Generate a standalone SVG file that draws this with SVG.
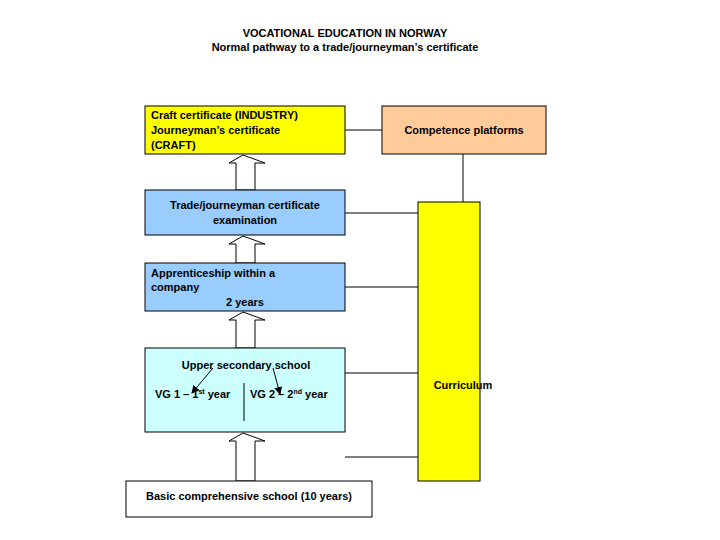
<svg xmlns="http://www.w3.org/2000/svg" width="720" height="540" viewBox="0 0 720 540">
<style>
text{font-family:"Liberation Sans",Arial,sans-serif;font-size:11px;font-weight:bold;fill:#000}
.b{stroke:#000;stroke-width:1}
.l{stroke:#000;stroke-width:1;fill:none}
.ba{fill:#fff;stroke:#000;stroke-width:1}
</style>
<defs>
<marker id="ah" markerWidth="8" markerHeight="8" refX="7" refY="4" orient="auto" markerUnits="userSpaceOnUse"><path d="M0,0 L8,4 L0,8 z" fill="#000"/></marker>
</defs>
<rect width="720" height="540" fill="#fff"/>
<text x="345" y="37" text-anchor="middle">VOCATIONAL EDUCATION IN NORWAY</text>
<text x="345" y="51" text-anchor="middle">Normal pathway to a trade/journeyman’s certificate</text>
<g id="connectors">
<line class="l" x1="345" y1="130" x2="382" y2="130"/>
<line class="l" x1="463" y1="154" x2="463" y2="202"/>
<line class="l" x1="345" y1="213" x2="418" y2="213"/>
<line class="l" x1="345" y1="287" x2="418" y2="287"/>
<line class="l" x1="345" y1="373" x2="418" y2="373"/>
<line class="l" x1="345" y1="457" x2="418" y2="457"/>
<path class="ba" d="M243,155 L265,163 L255,163 L255,190 L236,190 L236,163 L229,163 Z"/>
<path class="ba" d="M243,236 L265,244 L255,244 L255,263 L236,263 L236,244 L229,244 Z"/>
<path class="ba" d="M243,312 L265,320 L255,320 L255,348 L236,348 L236,320 L229,320 Z"/>
<path class="ba" d="M243,433 L265,441 L255,441 L255,481 L236,481 L236,441 L229,441 Z"/>
</g>
<g id="craft"><rect class="b" x="145" y="106" width="200" height="48" fill="#ffff00"/>
<text x="151" y="119">Craft certificate (INDUSTRY)</text><text x="151" y="134">Journeyman’s certificate</text><text x="151" y="149">(CRAFT)</text></g>
<g id="competence"><rect class="b" x="382" y="106" width="164" height="48" fill="#ffcc99"/>
<text x="464" y="134" text-anchor="middle">Competence platforms</text></g>
<g id="trade"><rect class="b" x="145" y="190" width="200" height="45" fill="#99ccff"/>
<text x="245" y="209" text-anchor="middle">Trade/journeyman certificate</text><text x="245" y="224" text-anchor="middle">examination</text></g>
<g id="apprenticeship"><rect class="b" x="145" y="263" width="200" height="48" fill="#99ccff"/>
<text x="151" y="277">Apprenticeship within a</text><text x="151" y="291">company</text><text x="245" y="306" text-anchor="middle">2 years</text></g>
<g id="upper"><rect class="b" x="145" y="348" width="200" height="84" fill="#ccffff"/>
<text x="246" y="369" text-anchor="middle">Upper secondary school</text>
<text x="155" y="398">VG 1 – 1<tspan font-size="7" dy="-4">st</tspan><tspan dy="4"> year</tspan></text>
<text x="250" y="398">VG 2 – 2<tspan font-size="7" dy="-4">nd</tspan><tspan dy="4"> year</tspan></text>
<line class="l" x1="244" y1="383" x2="244" y2="421"/>
<line class="l" x1="213" y1="368" x2="192" y2="393" marker-end="url(#ah)"/>
<line class="l" x1="273" y1="368" x2="280" y2="394" marker-end="url(#ah)"/>
</g>
<g id="basic"><rect class="b" x="126" y="481" width="246" height="36" fill="#fff"/>
<text x="249" y="500" text-anchor="middle">Basic comprehensive school (10 years)</text></g>
<g id="curriculum"><rect class="b" x="418" y="202" width="62" height="279" fill="#ffff00"/>
<text x="463" y="389" text-anchor="middle">Curriculum</text></g>
</svg>
